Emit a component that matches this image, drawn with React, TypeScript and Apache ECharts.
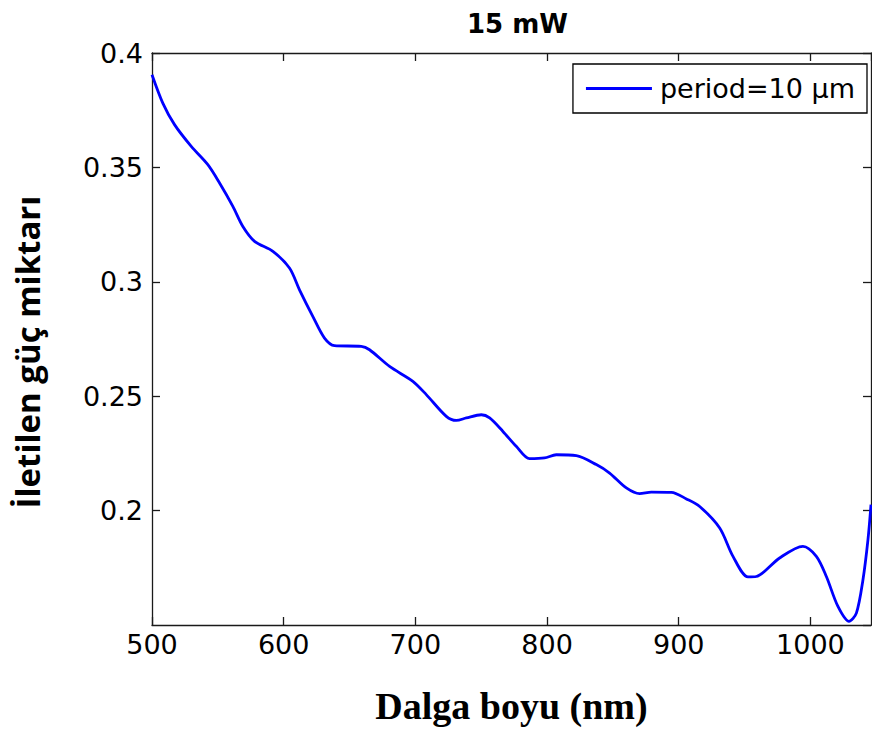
import React, { useEffect, useRef } from "react";
import * as echarts from "echarts";

const titleText = "15 mW";
const seriesName = "period=10 μm";
const xAxisName = "Dalga boyu (nm)";
const yAxisName = "İletilen güç miktarı";

const wavelength = [
  500, 508.2, 517.1, 529.8, 542.4, 551.3, 561.4, 569.0, 577.9, 591.8,
  604.4, 612.0, 622.1, 631.0, 638.6, 658.9, 665.2, 680.4, 698.1, 708.3,
  723.5, 731.1, 738.7, 750.1, 756.4, 766.5, 776.6, 786.7, 798.1, 807.0,
  822.2, 837.4, 847.5, 860.2, 870.3, 879.2, 894.4, 905.8, 915.9, 931.1,
  941.2, 952.6, 958.9, 976.6, 994.3, 1004.5, 1012.1, 1020.9, 1029.3, 1034.9,
  1039.9, 1043.7, 1046,
];
const power = [
  0.3905, 0.3781, 0.3687, 0.3592, 0.3512, 0.3432, 0.333, 0.3242, 0.3177, 0.3133,
  0.306, 0.2965, 0.2849, 0.2754, 0.2721, 0.2718, 0.2703, 0.263, 0.2565, 0.2507,
  0.2412, 0.2394, 0.2405, 0.2419, 0.2405, 0.2346, 0.2281, 0.2227, 0.223, 0.2244,
  0.224, 0.2201, 0.2164, 0.2099, 0.2074, 0.2081, 0.208, 0.2051, 0.2018, 0.1924,
  0.18, 0.171, 0.1712, 0.1793, 0.1844, 0.18, 0.1712, 0.1581, 0.1516, 0.1552,
  0.1698, 0.1873, 0.2026,
];

const xMin = 500;
const xMax = 1046;
const xInterval = 100;
const yMin = 0.15;
const yMax = 0.4;
const yInterval = 0.05;

export default function App() {
  const ref = useRef<HTMLDivElement>(null);
  useEffect(() => {
    if (!ref.current) return;
    const chart = echarts.init(ref.current, null, { renderer: "svg" });
    const axisLine = { show: true, lineStyle: { color: "#1a1a1a", width: 1.3 } };
    const tickFont = { color: "#000", fontFamily: "DejaVu Sans", fontSize: 27 };
    const tick = { show: true, inside: true, length: 8, lineStyle: { color: "#1a1a1a", width: 1.3 } };
    chart.setOption({
      animation: false,
      backgroundColor: "#fff",
      title: {
        text: titleText,
        left: 462,
        top: 6,
        textStyle: { fontFamily: "DejaVu Sans", fontWeight: "bold", fontSize: 26, color: "#000" },
      },
      legend: {
        right: 5,
        top: 64,
        orient: "vertical",
        backgroundColor: "#fff",
        borderColor: "#000",
        borderWidth: 1.3,
        borderRadius: 0,
        padding: [10, 12, 10, 13],
        icon: "rect",
        itemWidth: 66,
        itemHeight: 3,
        itemGap: 0,
        textStyle: { fontFamily: "DejaVu Sans", fontSize: 27, color: "#000", padding: [0, 0, 0, 3], lineHeight: 29 },
        data: [{ name: seriesName }],
      },
      grid: { left: 152, right: 1, top: 53, bottom: 106, containLabel: false },
      xAxis: [
        {
          type: "value",
          min: xMin,
          max: xMax,
          interval: xInterval,
          position: "bottom",
          axisLine,
          axisTick: tick,
          axisLabel: { ...tickFont, margin: 6, showMaxLabel: false, formatter: (v: number) => String(v) },
          splitLine: { show: false },
          name: xAxisName,
          nameLocation: "middle",
          nameGap: 62,
          nameTextStyle: { fontFamily: "Liberation Serif", fontWeight: "bold", fontSize: 38, color: "#000" },
        },
        {
          type: "value",
          min: xMin,
          max: xMax,
          interval: xInterval,
          position: "top",
          axisLine,
          axisTick: tick,
          axisLabel: { show: false },
          splitLine: { show: false },
        },
      ],
      yAxis: [
        {
          type: "value",
          min: yMin,
          max: yMax,
          interval: yInterval,
          position: "left",
          axisLine,
          axisTick: tick,
          axisLabel: { ...tickFont, margin: 9, showMinLabel: false, formatter: (v: number) => String(Math.round(v * 100) / 100) },
          splitLine: { show: false },
        },
        {
          type: "value",
          min: yMin,
          max: yMax,
          interval: yInterval,
          position: "right",
          axisLine,
          axisTick: tick,
          axisLabel: { show: false },
          splitLine: { show: false },
        },
      ],
      graphic: [
        {
          type: "text",
          x: 27,
          y: 352,
          rotation: Math.PI / 2,
          style: {
            text: yAxisName,
            fontFamily: "Open Sans",
            fontWeight: "bold",
            fontSize: 33,
            fill: "#000",
            align: "center",
            verticalAlign: "middle",
          },
        },
      ],
      series: [
        {
          name: seriesName,
          type: "line",
          xAxisIndex: 0,
          yAxisIndex: 0,
          data: wavelength.map((w, i) => [w, power[i]]),
          smooth: 0.3,
          symbol: "none",
          clip: true,
          lineStyle: { color: "#0000ff", width: 2.8 },
          itemStyle: { color: "#0000ff" },
        },
      ],
    });
    return () => chart.dispose();
  }, []);
  return (
    <div
      ref={ref}
      style={{ position: "absolute", left: 0, top: 0, width: 872, height: 731 }}
    />
  );
}
